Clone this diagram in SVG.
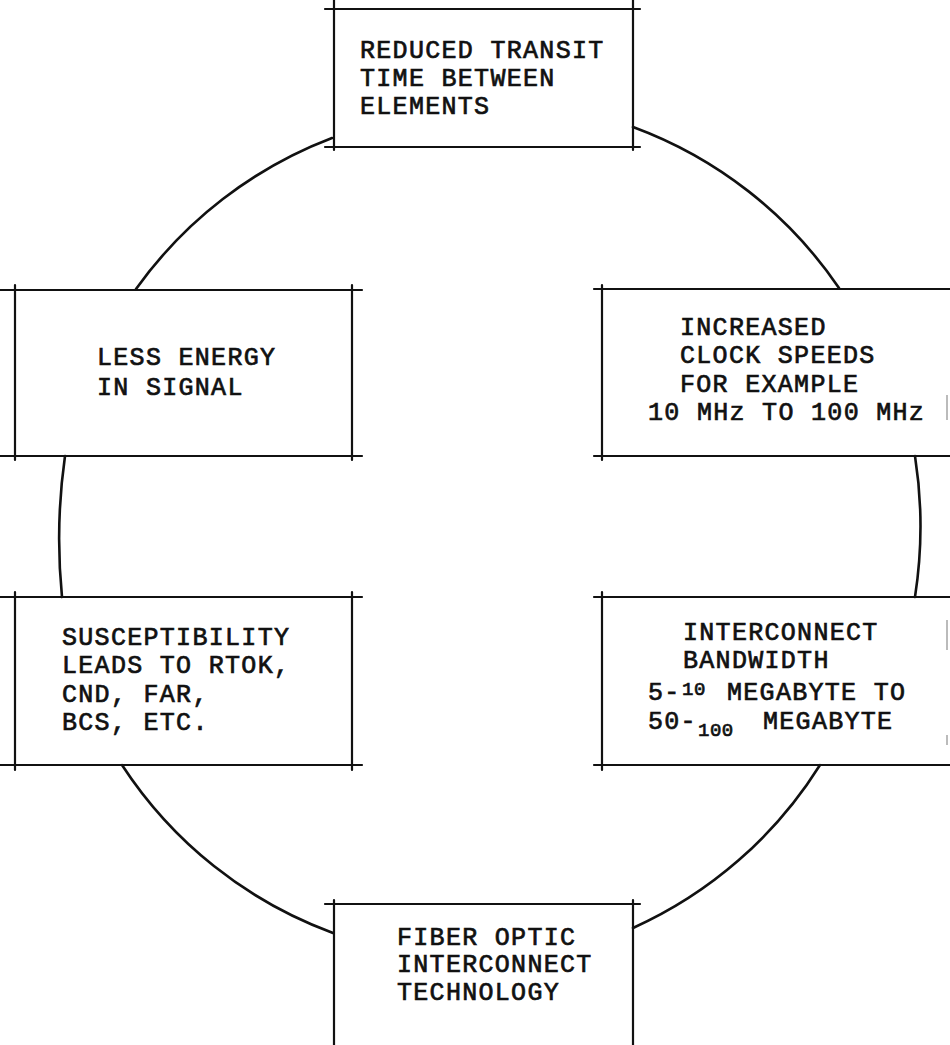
<svg xmlns="http://www.w3.org/2000/svg" width="950" height="1045" viewBox="0 0 950 1045">
<style>
.b{stroke:#111;stroke-width:2.2;fill:none;stroke-linecap:round}
.c{stroke:#111;stroke-width:2.6;fill:none;stroke-linecap:round}
.t{font-family:"Liberation Mono","DejaVu Sans Mono",monospace;font-size:25px;fill:#111;stroke:#111;stroke-width:0.7;letter-spacing:1.3px}
.s{font-size:19px;letter-spacing:0.5px}
.f{stroke:#bbb;stroke-width:2;fill:none}
</style>
<rect width="950" height="1045" fill="#fff"/>
<g id="connectors">
<path class="c" d="M332,138 A428,428 0 0 0 136,289"/>
<path class="c" d="M633,127 A428,428 0 0 1 839,288"/>
<path class="c" d="M65,456 Q55,526 62,597"/>
<path class="c" d="M915,456 Q926,526 915,597"/>
<path class="c" d="M122,765 A428,428 0 0 0 333,933"/>
<path class="c" d="M820,765 A428,428 0 0 1 633,928"/>
</g>
<g id="node-reduced">
<path class="b" d="M325,9 H640 M325,147 H640 M334,0 V150 M633,0 V150"/>
<text class="t" x="360" y="58">REDUCED TRANSIT</text>
<text class="t" x="360" y="86">TIME BETWEEN</text>
<text class="t" x="360" y="114">ELEMENTS</text>
</g>
<g id="node-less-energy">
<path class="b" d="M0,290 H362 M0,456 H362 M15,285 V460 M352,285 V460"/>
<text class="t" x="97" y="365">LESS ENERGY</text>
<text class="t" x="97" y="395">IN SIGNAL</text>
</g>
<g id="node-clock">
<path class="b" d="M594,289 H950 M594,456 H950 M602,285 V460"/>
<path class="f" d="M947,395 V420"/>
<text class="t" x="680" y="335">INCREASED</text>
<text class="t" x="680" y="363">CLOCK SPEEDS</text>
<text class="t" x="680" y="392">FOR EXAMPLE</text>
<text class="t" x="648" y="420">10 MHz TO 100 MHz</text>
</g>
<g id="node-susceptibility">
<path class="b" d="M0,597 H362 M0,765 H362 M15,592 V770 M352,592 V770"/>
<text class="t" x="62" y="645">SUSCEPTIBILITY</text>
<text class="t" x="62" y="673">LEADS TO RTOK,</text>
<text class="t" x="62" y="702">CND, FAR,</text>
<text class="t" x="62" y="730">BCS, ETC.</text>
</g>
<g id="node-bandwidth">
<path class="b" d="M594,597 H950 M594,765 H950 M602,592 V770"/>
<path class="f" d="M947,620 V650 M947,735 V745"/>
<text class="t" x="683" y="640">INTERCONNECT</text>
<text class="t" x="683" y="668">BANDWIDTH</text>
<text class="t" x="648" y="700">5-</text>
<text class="t s" x="682" y="695">10</text>
<text class="t" x="727" y="700">MEGABYTE TO</text>
<text class="t" x="648" y="729">50-</text>
<text class="t s" x="698" y="736">100</text>
<text class="t" x="763" y="729">MEGABYTE</text>
</g>
<g id="node-fiber">
<path class="b" d="M325,904 H640 M334,900 V1045 M633,900 V1045"/>
<text class="t" x="397" y="945">FIBER OPTIC</text>
<text class="t" x="397" y="972">INTERCONNECT</text>
<text class="t" x="397" y="1000">TECHNOLOGY</text>
</g>
</svg>
